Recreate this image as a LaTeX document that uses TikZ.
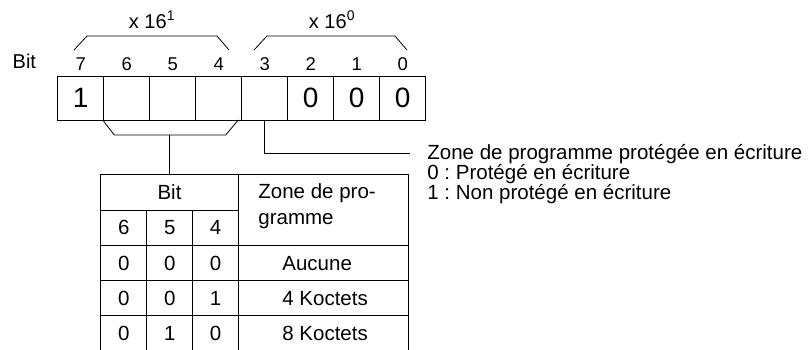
\documentclass[tikz,border=0pt]{standalone}
\usepackage{fontspec}
\setmainfont{Liberation Sans}
\frenchspacing

\begin{document}
\begin{tikzpicture}[
  x=1pt, y=-1pt,
  line width=0.8pt,
  cell/.style={draw, minimum width=46pt, minimum height=44pt, inner sep=0pt, font=\fontsize{28}{32}\selectfont},
  bitnum/.style={anchor=base, inner sep=0pt, font=\fontsize{18.5}{20}\selectfont},
  lbl/.style={anchor=base, inner sep=0pt, font=\fontsize{20}{24}\selectfont},
  tcell/.style={anchor=base, inner sep=0pt, font=\fontsize{20.5}{26}\selectfont},
  note/.style={anchor=base west, inner sep=0pt, font=\fontsize{20.5}{20}\selectfont}
]
\useasboundingbox (0,0) rectangle (812,350);

% register with bit numbers
\node[lbl, anchor=base west] (bitlbl) at (12.3,68.3) {Bit};
\foreach \b/\v [count=\k from 0] in {7/1,6/,5/,4/,3/,2/0,1/0,0/0} {
  \node[cell] (b\b) at ({80.7+46*\k},98) {\v};
  \node[bitnum] (n\b) at ({80.7+46*\k},70.7) {\b};
}

% digit groups
\draw (74,50) -- (87,36) -- (217,36) -- (229,50);
\node[lbl] (hi) at (152,28.5) {x 16\textsuperscript{1}};
\draw (254,50) -- (267,36) -- (395,36) -- (407,50);
\node[lbl] (lo) at (332,28.5) {x 16\textsuperscript{0}};

% bits 6..4 to the table
\coordinate (brk) at (169.5,135);
\draw (102.7,120) -- (114.3,135) -- (225.7,135) -- (238.3,120);

% bit 3 note
\node[note] (zone) at (427,160) {Zone de programme protégée en écriture};
\node[note] (prot) at (427,180) {0 : Protégé en écriture};
\node[note] (nonprot) at (427,200) {1 : Non protégé en écriture};
\coordinate (zoneend) at (410,153);
\draw (b3.south) |- (zoneend);

% table
\node[draw, minimum width=137.6pt, minimum height=35.5pt, inner sep=0pt, font=\fontsize{20.5}{26}\selectfont] (tbit) at (169.5,192.25) {Bit};
\draw (brk) -- (tbit);
\draw (100.7,350) -- (100.7,174.5) -- (408,174.5) -- (408,350);
\draw (238.3,174.5) -- (238.3,350);
\foreach \x in {146.7,192.7} \draw (\x,210) -- (\x,350);
\foreach \y in {245,280.5,315.5} \draw (100.7,\y) -- (408,\y);

\node[tcell, anchor=base west, align=left] (zhead) at (258,225) {Zone de pro-\\gramme};
\foreach \c/\x in {6/123.7,5/169.7,4/215.5}
  \node[tcell] (h\c) at (\x,235) {\c};
\foreach \y/\s/\f/\q/\t [count=\k] in {270/0/0/0/Aucune,305/0/0/1/4 Koctets,340/0/1/0/8 Koctets} {
  \node[tcell] (r\k a) at (123.7,\y) {\s};
  \node[tcell] (r\k b) at (169.7,\y) {\f};
  \node[tcell] (r\k c) at (215.5,\y) {\q};
  \node[tcell, anchor=base west] (r\k z) at (282,\y) {\t};
}
\end{tikzpicture}
\end{document}
